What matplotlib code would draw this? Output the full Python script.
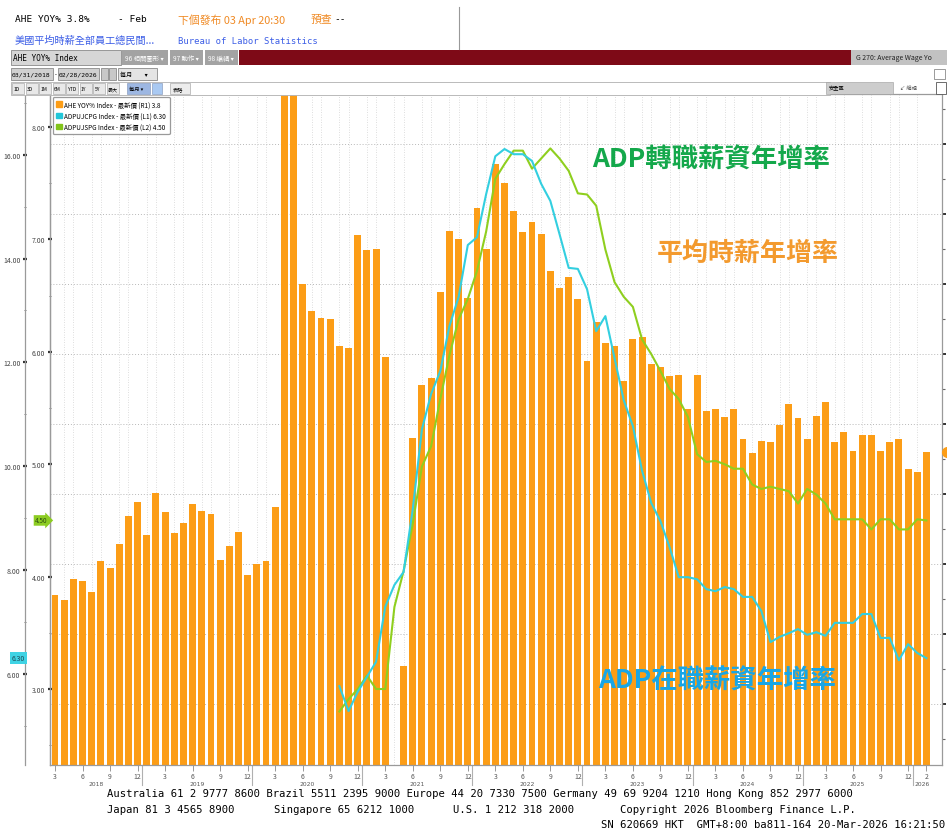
import matplotlib
matplotlib.use("Agg")
import matplotlib.pyplot as plt
import matplotlib.transforms as mtransforms
from matplotlib.patches import Rectangle, Patch
import numpy as np
import pandas as pd

CJK = ['Noto Sans CJK TC', 'DejaVu Sans']
MONO = 'DejaVu Sans Mono'
plt.rcParams['font.family'] = CJK

# ---- data ----
months = pd.period_range('2018-03', '2026-02', freq='M')

# AHE YoY %, right axis (R1); Apr 2021 is below the axis floor
ahe_yoy = [2.78, 2.74, 2.89, 2.88, 2.80, 3.02, 2.97, 3.14, 3.34, 3.44,
           3.21, 3.51, 3.37, 3.22, 3.29, 3.43, 3.38, 3.36, 3.03, 3.13, 3.23, 2.92,
           3.00, 3.02, 3.41, 8.00, 6.70, 5.00, 4.81, 4.76, 4.75, 4.56, 4.54, 5.35,
           5.24, 5.25, 4.48, 0.30, 2.27, 3.90, 4.28, 4.33, 4.94, 5.38, 5.32, 4.90,
           5.54, 5.25, 5.86, 5.72, 5.52, 5.37, 5.44, 5.36, 5.09, 4.97, 5.05, 4.89,
           4.45, 4.73, 4.58, 4.56, 4.31, 4.61, 4.62, 4.43, 4.41, 4.34, 4.35, 4.11,
           4.35, 4.09, 4.11, 4.05, 4.11, 3.89, 3.79, 3.88, 3.87, 3.99, 4.14, 4.04,
           3.89, 4.06, 4.16, 3.87, 3.94, 3.81, 3.92, 3.92, 3.81, 3.87, 3.89, 3.68,
           3.66, 3.80]

adp_start = pd.Period('2020-10', freq='M')
# ADPUJCPG, left outer axis (L1)
adpujcpg = [5.76, 5.28, 5.65, 5.94, 6.23, 7.29, 7.71, 7.96, 9.17, 10.71,
            11.39, 11.83, 12.70, 13.26, 14.26, 14.41, 15.24, 15.97, 16.11, 16.01,
            16.01, 15.88, 15.44, 15.11, 14.47, 13.82, 13.80, 13.41, 12.60, 12.89,
            12.08, 11.27, 10.77, 9.91, 9.29, 8.94, 8.44, 7.86, 7.86, 7.82,
            7.63, 7.59, 7.67, 7.63, 7.48, 7.48, 7.21, 6.61, 6.71, 6.78,
            6.86, 6.75, 6.80, 6.73, 6.98, 6.98, 6.98, 7.15, 7.15, 6.69,
            6.69, 6.26, 6.57, 6.40, 6.30]
# ADPUJSPG, left inner axis (L2)
adpujspg = [2.80, 2.91, 3.00, 3.12, 3.00, 3.00, 3.73, 4.05, 4.47, 4.98,
            5.16, 5.58, 5.97, 6.29, 6.47, 6.72, 7.07, 7.54, 7.67, 7.79,
            7.79, 7.63, 7.72, 7.81, 7.72, 7.61, 7.41, 7.40, 7.30, 6.91,
            6.62, 6.49, 6.40, 6.11, 5.98, 5.83, 5.67, 5.58, 5.42, 5.09,
            5.02, 5.03, 5.00, 4.96, 4.96, 4.82, 4.78, 4.80, 4.78, 4.76,
            4.65, 4.78, 4.73, 4.65, 4.51, 4.51, 4.51, 4.51, 4.42, 4.51,
            4.51, 4.42, 4.42, 4.51, 4.50]

legend_labels = ["AHE YOY% Index - 最新價 (R1) 3.8",
                 "ADPUJCPG Index - 最新價 (L1) 6.30",
                 "ADPUJSPG Index - 最新價 (L2) 4.50"]

ORANGE = '#fc9d16'
CYAN = '#33cfe0'
GREEN = '#8fcf1f'

W, H = 947, 829
fig = plt.figure(figsize=(W / 100, H / 100), dpi=100)


def fx(x):
    return x / W


def fy(y):
    return 1 - y / H


def box(x0, y0, x1, y1, fc, ec='none', lw=0.6):
    fig.add_artist(Rectangle((fx(x0), fy(y1)), (x1 - x0) / W, (y1 - y0) / H,
                             transform=fig.transFigure, facecolor=fc,
                             edgecolor=ec, linewidth=lw))


def ftext(x, y, s, size=6.5, color='black', family=CJK, **kw):
    fig.text(fx(x), fy(y), s, fontsize=size, color=color, family=family,
             va='center', **kw)


# ---- Bloomberg header ----
ftext(15, 20, "AHE YOY% 3.8%", 6.8, family=MONO)
ftext(118, 20, "- Feb", 6.8, family=MONO)
ftext(178, 20, "下個發布 03 Apr 20:30", 7.8, color='#f08a24')
ftext(311, 20, "預查", 7.8, color='#f08a24')
ftext(334, 20, "--", 6.8, family=MONO)
ftext(15, 41, "美國平均時薪全部員工總民間...", 7.3, color='#3b5de6')
ftext(178, 41, "Bureau of Labor Statistics", 6.4, color='#3b5de6', family=MONO)
fig.add_artist(plt.Line2D([fx(459), fx(459)], [fy(8), fy(50)],
                          transform=fig.transFigure, color='#999999', lw=0.8))

box(11, 51, 121, 66, '#d6d6d6', '#8a8a8a')
ftext(13, 58.5, "AHE YOY% Index", 5.6, family=MONO)
for x0, x1, s in [(122, 168, "96 相關圖形 ▾"), (170, 203, "97 動作 ▾"),
                  (205, 238, "98 編輯 ▾")]:
    box(x0, 51, x1, 66, '#a3a3a3')
    ftext(x0 + 3, 58.5, s, 4.6, color='white')
box(239, 51, 851, 66, '#7e0a17')
box(851, 51, 947, 66, '#c2c2c2')
ftext(856, 58.5, "G 270: Average Wage Yo", 5.0, color='#222222')

box(11, 69, 53, 81, '#d0d0d0', '#8a8a8a')
ftext(12, 75, "03/31/2018", 4.6, family=MONO)
ftext(54, 75, "-", 4.6, family=MONO)
box(58, 69, 99, 81, '#d0d0d0', '#8a8a8a')
ftext(59, 75, "02/28/2026", 4.6, family=MONO)
box(101, 69, 108, 81, '#c8c8c8', '#8a8a8a')
box(109, 69, 116, 81, '#c8c8c8', '#8a8a8a')
box(118, 69, 157, 81, '#e4e4e4', '#8a8a8a')
ftext(120, 75, "每月         ▾", 4.4)
box(934, 70, 945, 80, 'white', '#8a8a8a')

box(11, 83, 830, 96, 'white', '#b0b0b0')
bx = 12
for s in ["1D", "3D", "1M", "6M", "YTD", "1Y", "5Y", "最大"]:
    box(bx, 84, bx + 12, 95, '#e8e8e8', '#9a9a9a', 0.4)
    ftext(bx + 1.5, 89.5, s, 3.6)
    bx += 13.5
box(127, 84, 150, 95, '#9db7e2', '#7a8fb5', 0.4)
ftext(129, 89.5, "每月 ▾", 3.8)
box(152, 84, 162, 95, '#a9c9f2', '#7a8fb5', 0.4)
box(170, 84, 190, 95, '#ececec', '#9a9a9a', 0.4)
ftext(173, 89.5, "表格", 3.8)
box(826, 83, 893, 95, '#cdcdcd', '#9a9a9a', 0.4)
ftext(829, 89, "安全區", 3.8)
ftext(900, 89, "↙ 編輯", 3.8, color='#555555')
box(936, 83, 946, 95, 'white', '#555555', 0.6)

# ---- main chart ----
ax = fig.add_axes([fx(50), fy(766), (942 - 50) / W, (766 - 95) / H])
ax_l2 = ax.twinx()
ax_l1 = ax.twinx()

x = np.arange(len(months))
ax.bar(x, ahe_yoy, width=0.75, color=ORANGE, zorder=2)
ax.set_xlim(-0.55, 96.7)
ax.set_ylim(1.564, 6.357)
ax.set_axisbelow(True)

ax.set_yticks(np.arange(2.0, 6.01, 0.5))
ax.set_yticks(np.arange(1.75, 6.36, 0.25), minor=True)
ax.grid(axis='y', which='major', color='#b8b8b8', linestyle=(0, (1, 2)), lw=0.7)

ax.set_xticks(x, minor=True)
ax.grid(axis='x', which='minor', color='#d2d2d2', linestyle=(0, (1, 2)), lw=0.6)
qpos = [i for i, m in enumerate(months) if m.month % 3 == 0] + [len(months) - 1]
ax.set_xticks(qpos)
ax.set_xticklabels([str(months[i].month) for i in qpos], fontsize=5, color='#555555')
ax.tick_params(axis='x', which='major', length=4, width=0.6, color='#888888', pad=1)
ax.tick_params(axis='x', which='minor', length=0)
for s in ax.spines.values():
    s.set_color('#9a9a9a')
    s.set_linewidth(0.9)

blend_x = mtransforms.blended_transform_factory(ax.transData, ax.transAxes)
years = sorted(set(m.year for m in months))
for yr in years:
    idx = [i for i, m in enumerate(months) if m.year == yr]
    ax.text((idx[0] + idx[-1]) / 2, -0.027, str(yr), transform=blend_x,
            fontsize=4.3, color='#555555', ha='center', va='center', family='DejaVu Sans')
    if months[idx[0]].month == 1:
        ax.plot([idx[0] - 0.5] * 2, [0, -0.03], transform=blend_x, clip_on=False,
                color='#b0b0b0', lw=0.8)

# ADP lines on the two left axes
x_adp = np.arange(len(adpujcpg)) + months.get_loc(adp_start)
ax_l1.plot(x_adp, adpujcpg, color=CYAN, lw=1.5, zorder=3)
ax_l2.plot(x_adp, adpujspg, color=GREEN, lw=1.5, zorder=3)

ax_l1.set_ylim(4.241, 17.170)
ax_l1.set_yticks(np.arange(6, 16.1, 2))
ax_l1.set_yticks(np.arange(5, 17.1, 2), minor=True)
ax_l2.set_ylim(2.324, 8.294)
ax_l2.set_yticks(np.arange(3, 8.1, 1))
ax_l2.set_yticks(np.arange(2.5, 8.1, 1), minor=True)
for a in (ax_l2, ax_l1):
    a.yaxis.tick_left()
    a.yaxis.set_major_formatter('{x:.2f}')
    for s in ('top', 'right', 'bottom'):
        a.spines[s].set_visible(False)
    a.spines['left'].set_visible(True)
    a.spines['left'].set_color('#9a9a9a')
    a.spines['left'].set_linewidth(0.9)
    a.tick_params(axis='y', which='major', direction='inout', length=3.5, width=1.6,
                  color='#333333', labelsize=5, labelcolor='#444444', pad=1.5)
    a.tick_params(axis='y', which='minor', direction='inout', length=2, width=0.7,
                  color='#777777')
ax_l1.spines['left'].set_position(('outward', 18))

# right axis (R1) for the bars: ticks only, labels fall outside the frame
ax.yaxis.tick_right()
ax.tick_params(axis='y', which='major', direction='out', length=3, width=1.3,
               color='#222222', labelright=False, labelleft=False)
ax.tick_params(axis='y', which='minor', direction='out', length=2, width=0.8,
               color='#666666')

# legend
handles = [Patch(color=ORANGE), Patch(color='#22c6d8'), Patch(color='#82c41a')]
leg = ax_l1.legend(handles, legend_labels, loc='upper left', bbox_to_anchor=(0.003, 0.996),
                   borderaxespad=0, fontsize=4.6, handlelength=0.9, handleheight=0.9,
                   handletextpad=0.4, labelspacing=0.5, borderpad=0.55,
                   framealpha=1, edgecolor='#9a9a9a', fancybox=True)
leg.get_frame().set_linewidth(0.9)

# last-value tags
blend_l1 = mtransforms.blended_transform_factory(fig.transFigure, ax_l1.transData)
blend_l2 = mtransforms.blended_transform_factory(fig.transFigure, ax_l2.transData)
ax_l1.text(fx(12), adpujcpg[-1], f"{adpujcpg[-1]:.2f}", transform=blend_l1, fontsize=5,
           va='center', ha='left', color='#1d4a55', zorder=10,
           bbox=dict(boxstyle='square,pad=0.3', fc='#3fd3e4', ec='none'))
ax_l2.text(fx(35), adpujspg[-1], f"{adpujspg[-1]:.2f}", transform=blend_l2, fontsize=4.6,
           va='center', ha='left', color='#2d4d10', zorder=10,
           bbox=dict(boxstyle='rarrow,pad=0.2', fc='#8ccc22', ec='none'))
blend_r = mtransforms.blended_transform_factory(ax.transAxes, ax.transData)
ax.plot([1.0056], [ahe_yoy[-1]], transform=blend_r, marker='o', ms=7, color=ORANGE,
        clip_on=False, zorder=5)

# annotations
ftext(592, 160, "ADP轉職薪資年增率", 19, color='#14a84b', fontweight='bold')
ftext(657, 253, "平均時薪年增率", 18.7, color='#f39a2e', fontweight='bold')
ftext(598, 681, "ADP在職薪資年增率", 19, color='#18a6e6', fontweight='bold')

# footer
FS = 7.6
ftext(107, 794, "Australia 61 2 9777 8600 Brazil 5511 2395 9000 Europe 44 20 7330 7500 "
      "Germany 49 69 9204 1210 Hong Kong 852 2977 6000", FS, family=MONO)
ftext(107, 810, "Japan 81 3 4565 8900", FS, family=MONO)
ftext(274, 810, "Singapore 65 6212 1000", FS, family=MONO)
ftext(453, 810, "U.S. 1 212 318 2000", FS, family=MONO)
ftext(620, 810, "Copyright 2026 Bloomberg Finance L.P.", FS, family=MONO)
ftext(945, 825, "SN 620669 HKT  GMT+8:00 ba811-164 20-Mar-2026 16:21:50", FS,
      family=MONO, ha='right')

fig.savefig("out.png", dpi=100, facecolor='white')
